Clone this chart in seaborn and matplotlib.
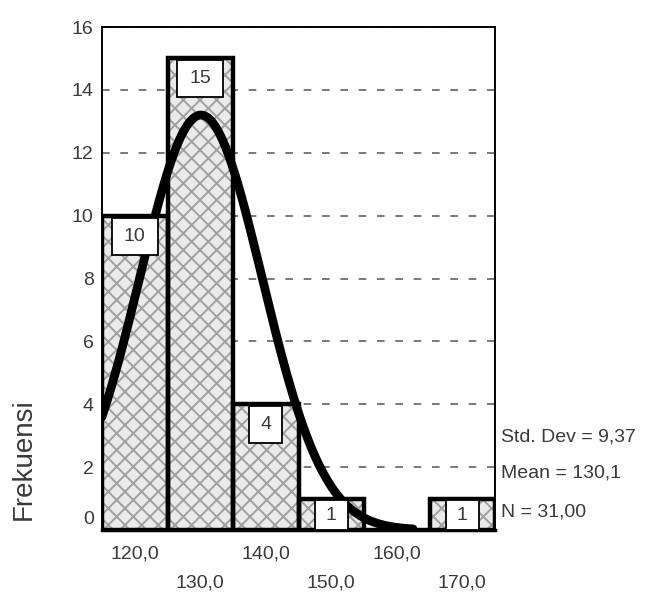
import numpy as np
import pandas as pd
import matplotlib
matplotlib.use("Agg")
import matplotlib.pyplot as plt
import matplotlib.transforms as mtransforms
from matplotlib.patches import Rectangle
import seaborn as sns

# ---- data ----
bin_edges = [115, 125, 135, 145, 155, 165, 175]
bin_centers = [120, 130, 140, 150, 160, 170]
counts = [10, 15, 4, 1, 0, 1]
major_xticks = [120, 140, 160]
minor_xticks = [130, 150, 170]
y_ticks = [0, 2, 4, 6, 8, 10, 12, 14, 16]
std_dev = 9.37
mean_val = 130.1
n_total = 31
stats_labels = ["Std. Dev = 9,37", "Mean = 130,1", "N = 31,00"]
y_label = "Frekuensi"

sns.set_theme(style="white")
plt.rcParams["font.family"] = ["Liberation Sans", "DejaVu Sans"]
plt.rcParams["hatch.linewidth"] = 1.4
text_col = "#3a3a3a"

fig = plt.figure(figsize=(6.58, 6.10), dpi=100)
ax = fig.add_axes([102 / 658, 80 / 610, 393 / 658, 503 / 610])

df = pd.DataFrame({"x": bin_centers, "w": counts})

# hatched fill
sns.histplot(data=df, x="x", weights="w", bins=bin_edges, ax=ax,
             color="#eaeaea", edgecolor="#a0a0a0", hatch="xx",
             linewidth=0, alpha=1, zorder=2)
# thick black outlines
sns.histplot(data=df, x="x", weights="w", bins=bin_edges, ax=ax,
             fill=False, color="black", linewidth=3.2, zorder=3)

# fitted normal curve from the displayed statistics
binw = bin_edges[1] - bin_edges[0]
xs = np.linspace(bin_edges[0], 162.5, 300)
ys = n_total * binw / (std_dev * np.sqrt(2 * np.pi)) * np.exp(-0.5 * ((xs - mean_val) / std_dev) ** 2)
sns.lineplot(x=xs, y=ys, ax=ax, color="black", linewidth=6.3, zorder=4)

# count label boxes
for c, cx in zip(counts, bin_centers):
    if c <= 0:
        continue
    w = 3.0 + 2.0 * len(str(c))
    top = c - 0.06
    h = min(1.18, top)
    ax.add_patch(Rectangle((cx - w / 2, top - h), w, h, facecolor="white",
                           edgecolor="black", linewidth=1.3, zorder=5))
    ax.text(cx, top - h / 2, str(c), ha="center", va="center",
            fontsize=14, color=text_col, zorder=6)

ax.set_xlim(bin_edges[0], bin_edges[-1])
ax.set_ylim(0, 16)
ax.set_yticks(y_ticks)
ax.set_yticklabels([str(t) for t in y_ticks])
ax.set_xticks(major_xticks)
ax.set_xticklabels([f"{t},0" for t in major_xticks])
ax.set_xticks(minor_xticks, minor=True)
ax.set_xticklabels([f"{t},0" for t in minor_xticks], minor=True)

ax.tick_params(axis="y", direction="out", length=3, width=2, pad=3,
               labelsize=14, labelcolor=text_col, color="black")
ax.tick_params(axis="x", which="major", direction="out", length=3, width=2,
               pad=8, labelsize=14, labelcolor=text_col, color="black")
ax.tick_params(axis="x", which="minor", direction="out", length=3, width=2,
               pad=29, labelsize=14, labelcolor=text_col, color="black")

# lift the 0 label as in the reference
lab0 = ax.get_yticklabels()[0]
lab0.set_transform(lab0.get_transform() +
                   mtransforms.ScaledTranslation(0, 12 / 100, fig.dpi_scale_trans))

ax.grid(axis="y", linestyle=(0, (5, 7)), color="#555555", linewidth=1.1)
ax.grid(axis="x", visible=False)
ax.set_axisbelow(True)

for side in ["left", "top", "right"]:
    ax.spines[side].set_color("black")
    ax.spines[side].set_linewidth(1.4)
ax.spines["bottom"].set_color("black")
ax.spines["bottom"].set_linewidth(2.5)

ax.set_xlabel("")
ax.set_ylabel(y_label, fontsize=20, color=text_col)
ax.yaxis.set_label_coords(-0.165, 0.14)

for lbl, yv in zip(stats_labels, [2.96, 1.82, 0.57]):
    ax.text(175.9, yv, lbl, ha="left", va="center", fontsize=14,
            color=text_col, clip_on=False)

fig.savefig("out.png", dpi=100, facecolor="white")
